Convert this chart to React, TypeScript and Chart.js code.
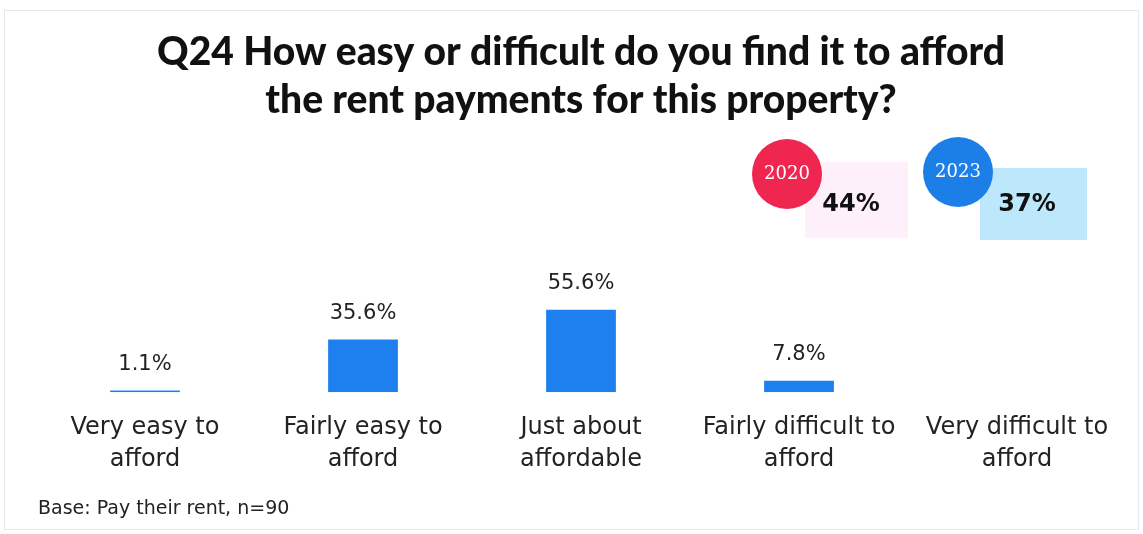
import React, { useEffect, useRef } from "react";
import { Chart, registerables } from "chart.js";

Chart.register(...registerables);

const categories: string[][] = [
  ["Very easy to", "afford"],
  ["Fairly easy to", "afford"],
  ["Just about", "affordable"],
  ["Fairly difficult to", "afford"],
  ["Very difficult to", "afford"],
];
const values: (number | null)[] = [1.1, 35.6, 55.6, 7.8, null];
const valueLabels: string[] = ["1.1%", "35.6%", "55.6%", "7.8%", ""];
const titleLines: string[] = [
  "Q24 How easy or difficult do you find it to afford",
  "the rent payments for this property?",
];
const badgeYears: string[] = ["2020", "2023"];
const badgeValues: string[] = ["44%", "37%"];
const footnote = "Base: Pay their rent, n=90";

const FONT = "'DejaVu Sans', sans-serif";
const TITLE_FONT = "Lato, 'DejaVu Sans', sans-serif";

const decorPlugin = {
  id: "decor",
  afterDraw(chart: any) {
    const ctx = chart.ctx as CanvasRenderingContext2D;
    ctx.save();
    // frame
    ctx.strokeStyle = "#e6e8ef";
    ctx.lineWidth = 1;
    ctx.strokeRect(4.5, 10.5, 1134, 519);
    // title
    ctx.fillStyle = "#111111";
    ctx.textAlign = "center";
    ctx.textBaseline = "middle";
    ctx.font = `900 39px ${TITLE_FONT}`;
    ctx.fillText(titleLines[0], 581, 52);
    ctx.fillText(titleLines[1], 581, 100);

    // badges
    const badges = [
      { cx: 787, cy: 174, rect: [805, 162, 103, 76], circ: "#ee2650", fill: "#fdf0fb", tx: 851 },
      { cx: 958, cy: 172, rect: [980, 168, 107, 72], circ: "#1c7fe8", fill: "#bde8fb", tx: 1027 },
    ];
    badges.forEach((b, i) => {
      ctx.fillStyle = b.fill;
      ctx.fillRect(b.rect[0], b.rect[1], b.rect[2], b.rect[3]);
      ctx.beginPath();
      ctx.arc(b.cx, b.cy, 35, 0, Math.PI * 2);
      ctx.fillStyle = b.circ;
      ctx.fill();
      ctx.fillStyle = "#ffffff";
      ctx.font = `18px 'DejaVu Serif', serif`;
      ctx.textAlign = "center";
      ctx.fillText(badgeYears[i], b.cx, b.cy);
      ctx.fillStyle = "#111111";
      ctx.font = `bold 24px 'DejaVu Sans', sans-serif`;
      ctx.fillText(badgeValues[i], b.tx, 205);
    });

    // bar value labels
    const meta = chart.getDatasetMeta(0);
    ctx.font = `21px ${FONT}`;
    ctx.fillStyle = "#222222";
    ctx.textAlign = "center";
    ctx.textBaseline = "middle";
    meta.data.forEach((el: any, i: number) => {
      if (values[i] == null) return;
      ctx.fillText(valueLabels[i], el.x, el.y - 26);
    });

    // footnote
    ctx.textAlign = "left";
    ctx.font = `19px ${FONT}`;
    ctx.fillStyle = "#222222";
    ctx.fillText(footnote, 38, 509);
    ctx.restore();
  },
};

export default function App() {
  const ref = useRef<HTMLCanvasElement | null>(null);
  useEffect(() => {
    document.body.style.margin = "0";
    const chart = new Chart(ref.current as HTMLCanvasElement, {
      type: "bar",
      data: {
        labels: categories as any,
        datasets: [
          {
            data: values,
            backgroundColor: "#1e80ef",
            barPercentage: 0.32,
            categoryPercentage: 1,
          },
        ],
      },
      options: {
        animation: false,
        responsive: false,
        layout: { padding: { top: 244, left: 36, right: 17, bottom: 47 } },
        plugins: { legend: { display: false }, tooltip: { enabled: false }, title: { display: false } },
        scales: {
          x: {
            grid: { display: false },
            border: { display: false },
            ticks: {
              color: "#222222",
              font: { family: FONT, size: 24, lineHeight: 1.35 },
              padding: 11,
              maxRotation: 0,
              autoSkip: false,
            },
          },
          y: { display: false, min: 0, max: 100 },
        },
      },
      plugins: [decorPlugin],
    });
    return () => chart.destroy();
  }, []);
  return (
    <div style={{ position: "absolute", left: 0, top: 0, width: 1143, height: 534, background: "#fff" }}>
      <canvas ref={ref} width={1143} height={534} style={{ width: 1143, height: 534 }} />
    </div>
  );
}
